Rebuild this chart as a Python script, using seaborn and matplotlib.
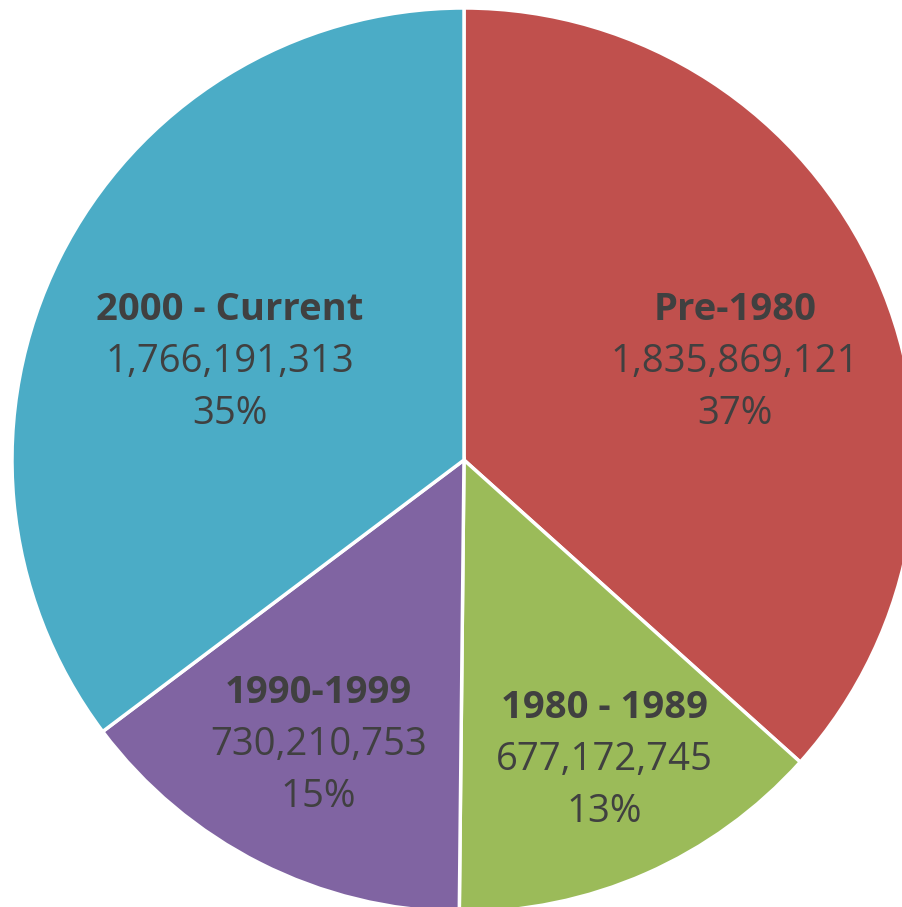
import numpy as np
import seaborn as sns
import matplotlib.pyplot as plt

categories = ["Pre-1980", "1980 - 1989", "1990-1999", "2000 - Current"]
values = [1835869121, 677172745, 730210753, 1766191313]
pct_labels = ["37%", "13%", "15%", "35%"]
colors = ["#C0504D", "#9BBB59", "#8064A2", "#4BACC6"]

# label placement (polar, in pie radii / degrees), Excel "best fit" style
label_radius = [0.638, 0.733, 0.708, 0.561]
label_angle = [19.9, -65.0, -117.0, 157.3]

sns.set_theme(style="white")
plt.rcParams["font.family"] = ["Open Sans", "DejaVu Sans"]

fig = plt.figure(figsize=(9.02, 9.07), dpi=100)
ax = fig.add_axes([0, 0, 1, 1])

wedges, _ = ax.pie(values, colors=colors, startangle=90, counterclock=False,
                   radius=1.0, wedgeprops=dict(edgecolor="white", linewidth=2.5))

# place pie so centre sits at (464, 460) px with radius 452 px
scale = 452.0
ax.set_xlim(-464 / scale, (902 - 464) / scale)
ax.set_ylim(-(907 - 460) / scale, 460 / scale)
ax.set_aspect("auto")
ax.axis("off")

txt = "#404040"
fs = 27.5
for cat, v, p, r, a in zip(categories, values, pct_labels, label_radius, label_angle):
    ang = np.deg2rad(a)
    x, y = r * np.cos(ang), r * np.sin(ang)
    ax.annotate(cat, (x, y), xytext=(0, 37.5), textcoords="offset points",
                ha="center", va="center", fontsize=fs, fontweight="bold", color=txt)
    ax.annotate(f"{v:,}", (x, y), xytext=(0, 0), textcoords="offset points",
                ha="center", va="center", fontsize=fs, color=txt)
    ax.annotate(p, (x, y), xytext=(0, -37.5), textcoords="offset points",
                ha="center", va="center", fontsize=fs, color=txt)

fig.savefig("out.png", dpi=100)
